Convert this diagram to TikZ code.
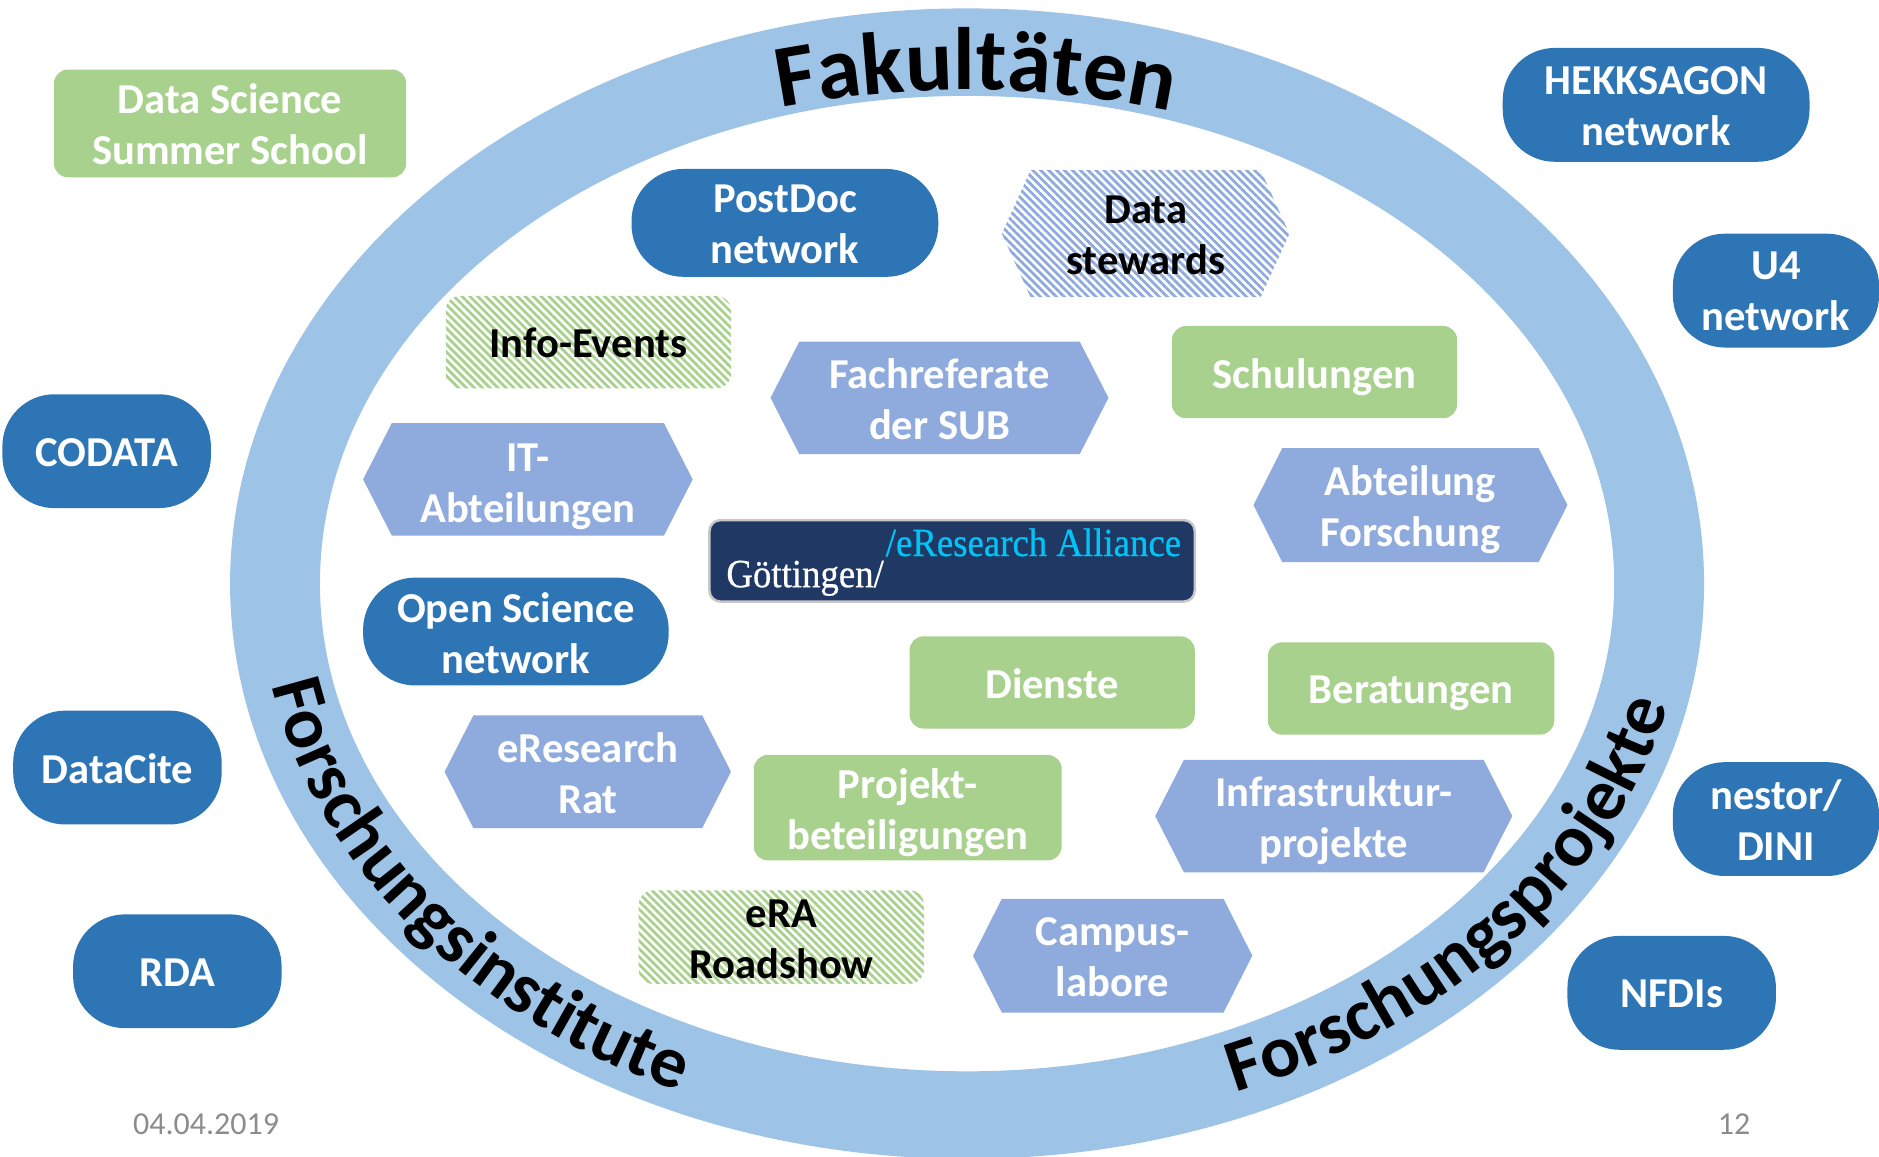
\documentclass[tikz,border=0pt]{standalone}
\usepackage{fontspec}
\setmainfont{Carlito}
\newfontfamily\logofont[FakeBold=0.6,FakeStretch=0.92]{Liberation Serif}
\usetikzlibrary{decorations.text,patterns.meta}
\definecolor{ringc}{HTML}{9DC3E6}
\definecolor{bluec}{HTML}{2E75B6}
\definecolor{greenc}{HTML}{A9D18E}
\definecolor{hexc}{HTML}{8FAADC}
\definecolor{navyc}{HTML}{1F3864}
\definecolor{cyanc}{HTML}{00C4F5}
\definecolor{greyc}{HTML}{8C8C8C}
\tikzset{
 lbl/.style={align=center,font=\fontsize{42.6}{51}\selectfont\bfseries,text=white,inner sep=0pt},
 lblk/.style={lbl,text=black},
 lown/.style={lbl,yshift=-3.6pt},
 greenbox/.style={fill=greenc,rounded corners=14pt},
 bluebox/.style={fill=bluec,rounded corners=52pt},
 hexbox/.style={fill=hexc},
 hexstripe/.style={pattern={Lines[angle=-45,distance=5.6pt,line width=2.8pt]},pattern color=hexc},
 greenstripe/.style={rounded corners=14pt,pattern={Lines[angle=-45,distance=5.6pt,line width=2.8pt]},pattern color=greenc},
 ringtext/.style={decorate,decoration={text effects along path,text={#1},text align=center,
   text effects/.cd,text along path, characters={font=\ringfont,text=black}}},
 foot/.style={font=\fontsize{32}{36}\selectfont,text=greyc,inner sep=0pt}
}
\newcommand{\ringfont}{\fontsize{84}{90}\selectfont\bfseries}
% box: name, x1, y1, x2, y2, shape style, label style, text
\newcommand{\rectb}[8]{
 \path[#6] (#2,#3) rectangle (#4,#5);
 \node[#7] (#1) at ({(#2+#4)/2},{(#3+#5)/2+1}) {#8};
}
\newcommand{\hexb}[8]{
 \path[#6] (#2,{(#3+#5)/2}) -- (#2+24,#3) -- (#4-24,#3) -- (#4,{(#3+#5)/2}) -- (#4-24,#5) -- (#2+24,#5) -- cycle;
 \node[#7] (#1) at ({(#2+#4)/2},{(#3+#5)/2+1}) {#8};
}
\begin{document}
\begin{tikzpicture}[x=1.19834pt,y=-1.19834pt]
\useasboundingbox (0,0) rectangle (1568,965.5);
\clip (0,0) rectangle (1568,965.5);
% ring
\fill[ringc,even odd rule] (807,487) ellipse [x radius=615,y radius=480] (807,487) ellipse [x radius=540,y radius=407];
% ring labels
\begin{scope}[shift={(807,487)},y=1.19834pt]
 \renewcommand{\ringfont}{\fontsize{88.5}{100}\selectfont\bfseries}
 \path[ringtext={Fakultäten}] ({587*cos(129.2)},{412*sin(129.2)}) arc [start angle=129.2,end angle=49.2,x radius=587,y radius=412];
 \renewcommand{\ringfont}{\fontsize{73.5}{90}\selectfont\bfseries}
 \path[ringtext={Forschungsinstitute}] ({590*cos(174.7)},{464*sin(174.7)}) arc [start angle=174.7,end angle=258.7,x radius=590,y radius=464];
 \renewcommand{\ringfont}{\fontsize{74}{90}\selectfont\bfseries}
 \path[ringtext={Forschungsprojekte}] ({600*cos(-81.5)},{458*sin(-81.5)}) arc [start angle=-81.5,end angle=4.5,x radius=600,y radius=458];
\end{scope}
% outer green
\rectb{dss}{45}{58}{339}{148}{greenbox}{lbl}{Data Science\\Summer School}
% blue capsules
\rectb{hek}{1254}{40}{1510}{135}{bluebox}{lbl}{HEKKSAGON\\network}
\rectb{ufour}{1396}{195}{1568}{290}{bluebox}{lbl}{U4\\network}
\rectb{cod}{2}{329}{176}{424}{bluebox}{lbl}{CODATA}
\rectb{dci}{11}{593}{185}{688}{bluebox}{lbl}{DataCite}
\rectb{rda}{61}{763}{235}{858}{bluebox}{lbl}{RDA}
\rectb{nes}{1396}{636}{1568}{731}{bluebox}{lbl}{nestor/\\DINI}
\rectb{nfd}{1308}{781}{1482}{876}{bluebox}{lbl}{NFDIs}
\rectb{pdn}{527}{141}{783}{231}{bluebox}{lbl}{PostDoc\\network}
\rectb{osn}{303}{482}{558}{572}{bluebox}{lbl}{Open Science\\network}
% hexagons
\hexb{dst}{836}{142}{1076}{248}{hexstripe}{lblk}{Data\\stewards}
\hexb{fac}{643}{285}{925}{379}{hexbox}{lbl}{Fachreferate\\der SUB}
\hexb{ita}{303}{353}{578}{447}{hexbox}{lbl,yshift=-6pt}{IT-\\Abteilungen}
\hexb{abf}{1046}{374}{1308}{469}{hexbox}{lown}{Abteilung\\Forschung}
\hexb{err}{371}{597}{610}{691}{hexbox}{lbl}{eResearch\\Rat}
\hexb{inf}{964}{634}{1262}{728}{hexbox}{lown}{Infrastruktur-\\projekte}
\hexb{cam}{812}{750}{1045}{845}{hexbox}{lbl}{Campus-\\labore}
% green
\rectb{iev}{372}{247}{610}{324}{greenstripe}{lblk}{Info-Events}
\rectb{sch}{978}{272}{1216}{349}{greenbox}{lown}{Schulungen}
\rectb{die}{759}{531}{997}{608}{greenbox}{lbl}{Dienste}
\rectb{ber}{1058}{536}{1297}{613}{greenbox}{lown}{Beratungen}
\rectb{pro}{629}{630}{886}{718}{greenbox}{lown}{Projekt-\\beteiligungen}
\rectb{ero}{533}{743}{771}{821}{greenstripe}{lblk,yshift=-1.2pt}{eRA\\Roadshow}
% logo
\draw[fill=navyc,draw=black!22,line width=2.5pt,rounded corners=11pt] (592,434) rectangle (997,502);
\node[anchor=base west,inner sep=0pt,text=white,font=\logofont\fontsize{40}{44}\selectfont] (goe) at (606,490) {Göttingen/};
\node[anchor=base west,inner sep=0pt,text=cyanc,font=\logofont\fontsize{40}{44}\selectfont] (era) at (739,464) {/eResearch Alliance};
% footer
\node[foot] (dat) at (172,938) {04.04.2019};
\node[foot] (num) at (1447,938) {12};
\end{tikzpicture}
\end{document}
